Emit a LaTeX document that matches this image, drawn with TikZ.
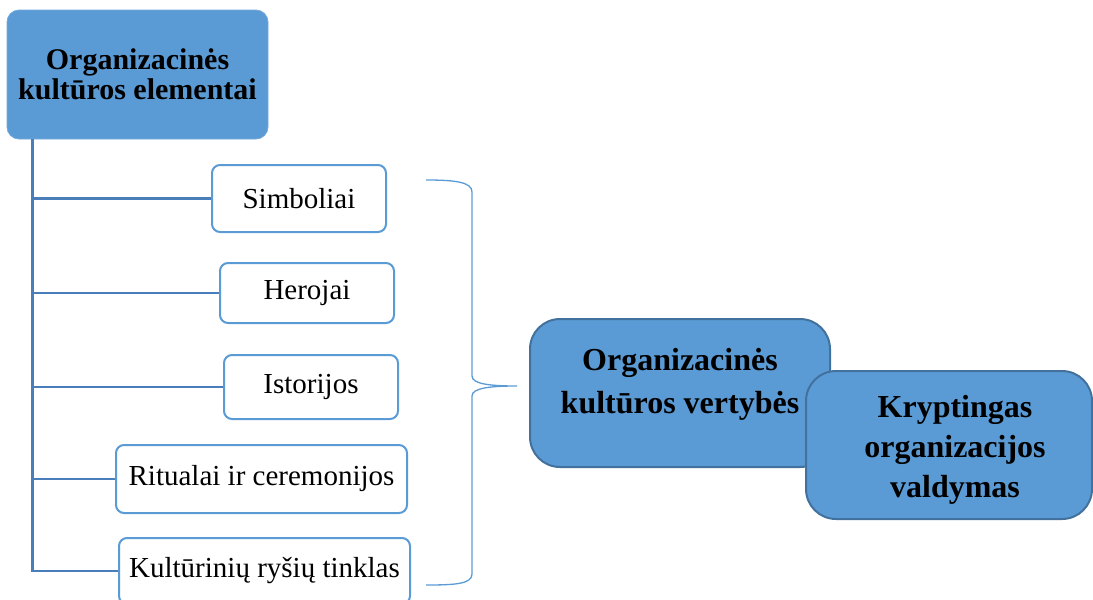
\documentclass[tikz,border=0pt]{standalone}
\usepackage{fontspec}
\setmainfont{Liberation Serif}
\definecolor{boxblue}{HTML}{5B9BD5}
\definecolor{edgeblue}{HTML}{41719C}
\definecolor{linkblue}{HTML}{4A7EBB}
\tikzset{
  headbox/.style={draw=boxblue!85!white, line width=0.8pt, fill=boxblue, rounded corners=12pt,
    minimum width=261pt, minimum height=129pt, inner sep=0pt, align=center,
    font=\fontsize{30}{29.5}\selectfont\bfseries},
  itembox/.style={draw=boxblue, line width=2pt, fill=white, rounded corners=8pt,
    minimum width=174pt, inner sep=0pt, font=\fontsize{29}{32}\selectfont},
  widebox/.style={itembox, minimum width=291pt},
  bigbox/.style={draw=edgeblue, line width=2pt, fill=boxblue, rounded corners=30pt, inner sep=0pt},
  bigtext/.style={align=center, inner sep=0pt},
  branch/.style={draw=linkblue, line width=2.5pt},
  bracket/.style={draw=boxblue, line width=1.3pt}
}
\begin{document}
\begin{tikzpicture}[x=1pt,y=-1pt]
\useasboundingbox (0,0) rectangle (1093,600);
\begin{scope}
\clip (0,0) rectangle (1093,600);

% element list, hanging from the heading box
\node[headbox] (head) at (137.5,74.5) {Organizacinės\\kultūros elementai};
\node[itembox, minimum height=67pt] (simb) at (299,198.5) {Simboliai};
\node[itembox, minimum height=60pt] (hero) at (307,293) {Herojai};
\node[itembox, minimum height=64pt] (ist) at (311,387) {Istorijos};
\node[widebox, minimum height=68pt] (rit) at (261.5,479) {Ritualai ir ceremonijos};
\node[widebox, minimum height=66pt] (kult) at (264.5,571) {Kultūrinių ryšių tinklas};

\foreach \n in {simb,hero,ist,rit,kult}
  \draw[branch] ([xshift=26pt]head.south west) |- (\n.west);

% curly bracket gathering the elements
\coordinate (brTop) at (426,180);
\coordinate (brTip) at (517,386);
\coordinate (brBot) at (426,585);
\draw[bracket] (brTop) .. controls (455,180) and (472,182) .. (472,192)
  -- (472,376) .. controls (472,384) and (490,386) .. (brTip)
  .. controls (490,386) and (472,388) .. (472,396)
  -- (472,574) .. controls (472,584) and (455,585) .. (brBot);

% values and management
\node[bigbox, minimum width=300pt, minimum height=148pt] (val) at (680,393) {};
\node[bigtext, font=\fontsize{32}{43}\selectfont\bfseries] (valtxt) at (680,384)
  {Organizacinės\\kultūros vertybės};
\node[bigbox, minimum width=286pt, minimum height=148pt] (mgmt) at (949,445) {};
\node[bigtext, font=\fontsize{32}{40}\selectfont\bfseries] (mgmttxt) at (955,450)
  {Kryptingas\\organizacijos\\valdymas};
\end{scope}
\end{tikzpicture}
\end{document}
